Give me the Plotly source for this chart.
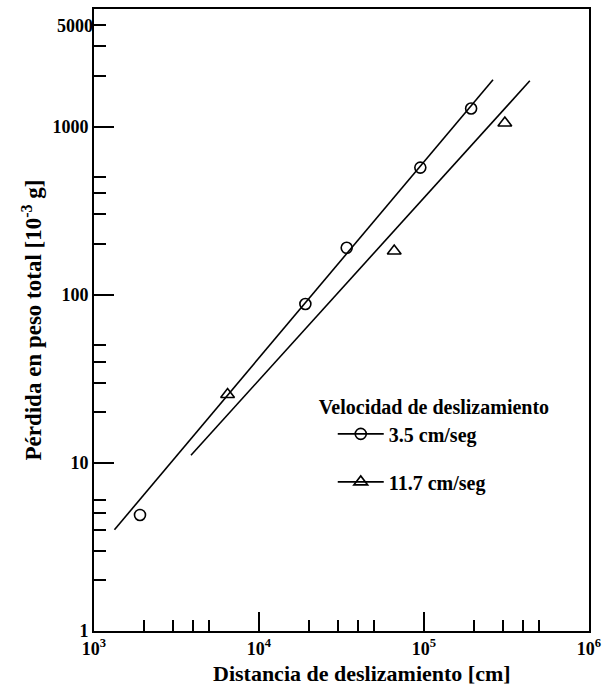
import plotly.graph_objects as go

# Measured wear data (sliding distance in cm, total weight loss in 10^-3 g)
dist_35 = [1900, 19100, 34000, 95000, 193000]
loss_35 = [4.9, 88, 190, 570, 1280]

dist_117 = [6450, 66000, 309000]
loss_117 = [25.5, 182, 1050]

# Fitted straight lines (log-log) for each sliding speed
fit_x_35 = [1330, 262000]
fit_y_35 = [4.0, 1900]
fit_x_117 = [3870, 438000]
fit_y_117 = [11.1, 1870]

series_names = ["3.5 cm/seg", "11.7 cm/seg"]

x_major = [1e3, 1e4, 1e5, 1e6]
x_major_text = ["10<sup>3</sup>", "10<sup>4</sup>", "10<sup>5</sup>", "10<sup>6</sup>"]
x_minor = [2e3, 3e3, 4e3, 5e3, 2e4, 3e4, 4e4, 5e4, 2e5, 3e5, 4e5, 5e5]

y_major = [1, 10, 100, 1000]
y_major_text = ["1", "10", "100", "1000"]
y_minor = [2, 3, 4, 5, 6, 20, 30, 40, 50, 200, 300, 400, 500, 2000, 3000, 4000]
y_top_tick = [4000]
y_top_text = ["5000"]

x_title = "Distancia de deslizamiento [cm]"
y_title = "Pérdida en peso total [10<sup>-3</sup> g]"
legend_title = "Velocidad de deslizamiento"

FONT = "Liberation Serif"
INK = "black"


def with_gaps(vals):
    # separate points with None so the "lines+markers" trace draws no segments
    out = []
    for v in vals:
        out += [v, None]
    return out[:-1]


fig = go.Figure()

fig.add_trace(go.Scatter(
    x=fit_x_35, y=fit_y_35, mode="lines",
    line=dict(color=INK, width=1.6), showlegend=False, hoverinfo="skip",
    legendgroup="a"))
fig.add_trace(go.Scatter(
    x=fit_x_117, y=fit_y_117, mode="lines",
    line=dict(color=INK, width=1.6), showlegend=False, hoverinfo="skip",
    legendgroup="b"))

fig.add_trace(go.Scatter(
    x=with_gaps(dist_35), y=with_gaps(loss_35), mode="lines+markers",
    name=series_names[0], legendgroup="a", connectgaps=False,
    line=dict(color=INK, width=1.6),
    marker=dict(symbol="circle-open", size=11, color=INK, line=dict(width=1.6))))
fig.add_trace(go.Scatter(
    x=with_gaps(dist_117), y=with_gaps(loss_117), mode="lines+markers",
    name=series_names[1], legendgroup="b", connectgaps=False, yaxis="y2",
    line=dict(color=INK, width=1.6),
    marker=dict(symbol="triangle-up-open", size=12, color=INK, line=dict(width=1.6))))

y_range = [0, 3.699]
TICK_SIZE = 18

fig.update_layout(
    width=608, height=689,
    margin=dict(l=94, r=16, t=7, b=58),
    paper_bgcolor="white", plot_bgcolor="white",
    font=dict(family=FONT, color=INK, size=TICK_SIZE, weight="bold"),
    xaxis=dict(
        type="log", range=[3, 6],
        tickmode="array", tickvals=x_major, ticktext=x_major_text,
        ticks="inside", ticklen=19, tickwidth=2, tickcolor=INK,
        tickfont=dict(size=TICK_SIZE, weight="bold"),
        minor=dict(tickmode="array", tickvals=x_minor, ticks="inside", ticklen=11,
                   tickwidth=1.6, tickcolor=INK, showgrid=False),
        showline=True, linewidth=2, linecolor=INK, mirror=True,
        showgrid=False, zeroline=False,
    ),
    yaxis=dict(
        type="log", range=y_range,
        title=dict(text=y_title, font=dict(size=23, weight="bold"), standoff=4),
        tickmode="array", tickvals=y_major, ticktext=y_major_text,
        ticks="inside", ticklen=20, tickwidth=2, tickcolor=INK,
        tickfont=dict(size=TICK_SIZE, weight="bold"),
        minor=dict(tickmode="array", tickvals=y_minor, ticks="inside", ticklen=12,
                   tickwidth=1.6, tickcolor=INK, showgrid=False),
        showline=True, linewidth=2, linecolor=INK, mirror=True,
        showgrid=False, zeroline=False,
    ),
    yaxis2=dict(
        type="log", range=y_range, overlaying="y", side="left",
        tickmode="array", tickvals=y_top_tick, ticktext=y_top_text,
        ticks="inside", ticklen=12, tickwidth=1.6, tickcolor=INK,
        tickfont=dict(size=TICK_SIZE, weight="bold"),
        showline=False, showgrid=False, zeroline=False,
    ),
    legend=dict(
        title=dict(text=legend_title, font=dict(size=20, weight="bold")),
        x=0.45, y=0.39, xanchor="left", yanchor="top",
        font=dict(size=20, weight="bold"), indentation=16, itemwidth=46,
        bgcolor="rgba(0,0,0,0)", tracegroupgap=19, traceorder="grouped",
    ),
    annotations=[dict(
        text=x_title, xref="paper", yref="paper", x=0.542, y=-0.069,
        xanchor="center", yanchor="middle", showarrow=False,
        font=dict(size=22, weight="bold", family=FONT, color=INK),
    )],
)

fig.write_html("out.html")
